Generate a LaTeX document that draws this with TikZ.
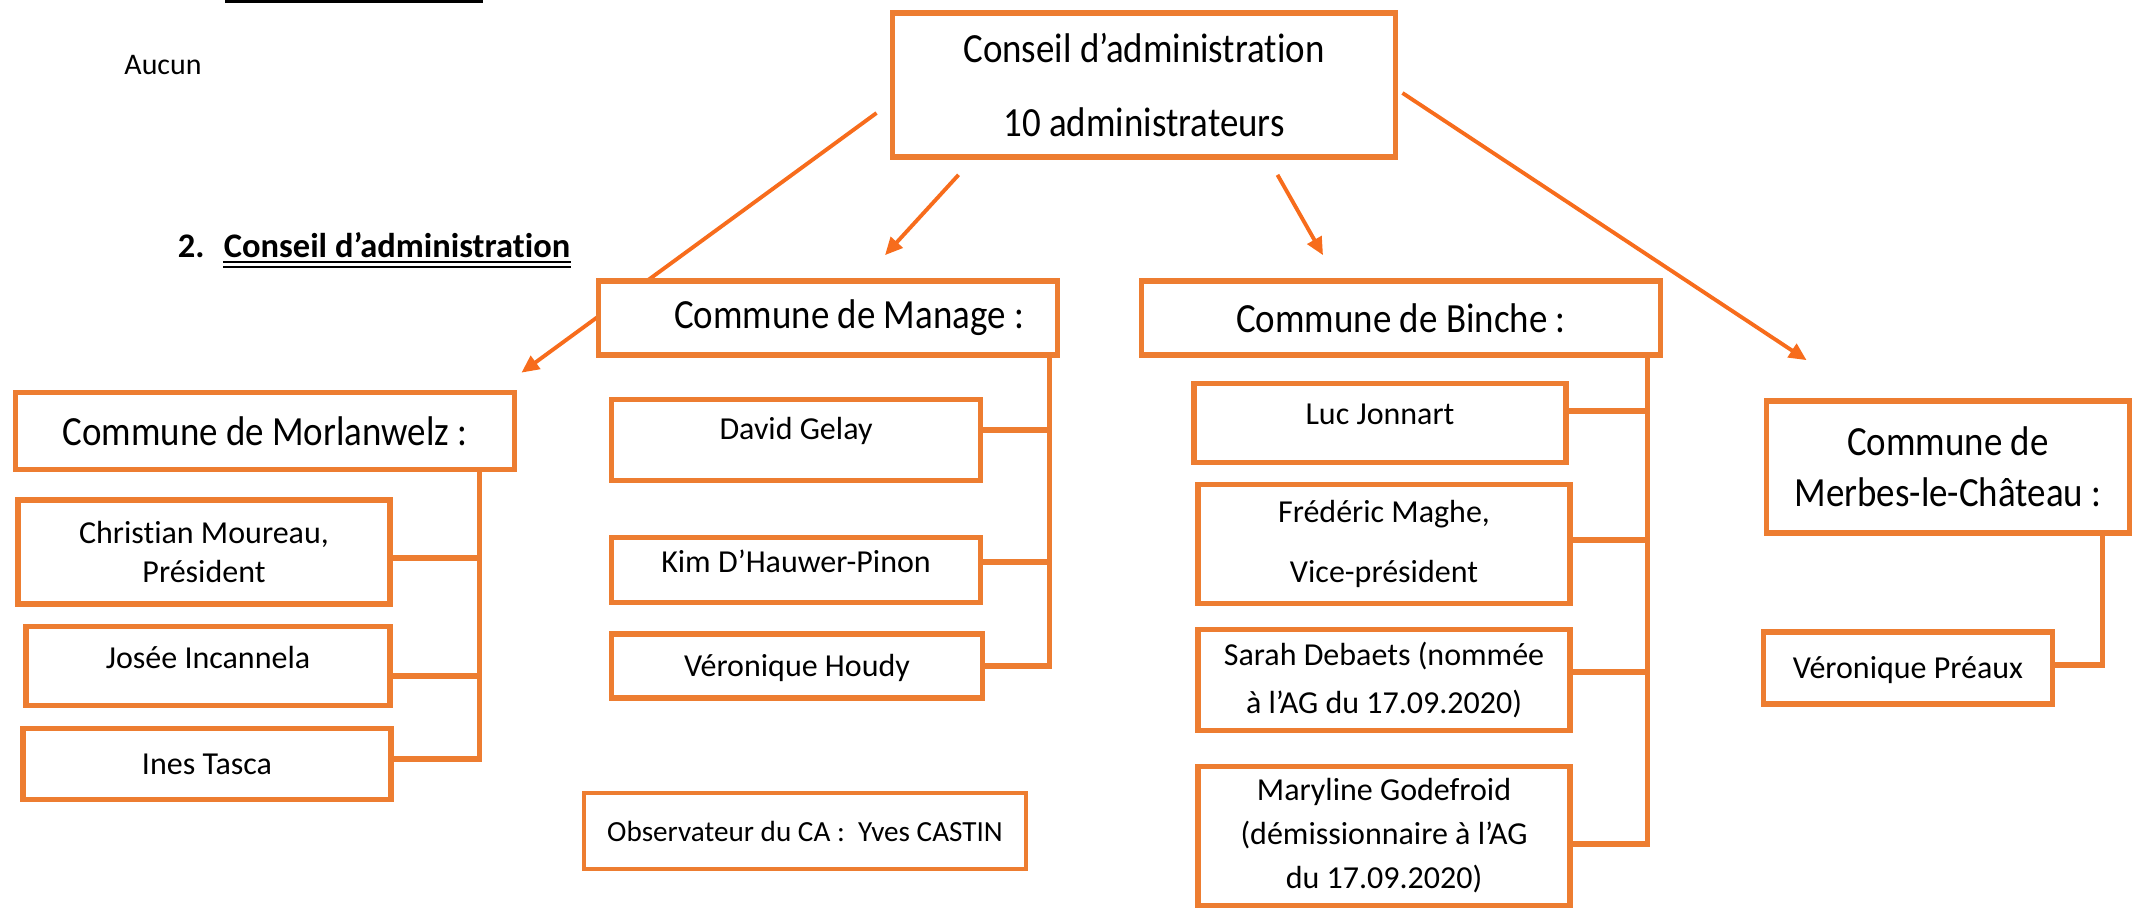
\documentclass[tikz,border=0pt]{standalone}
\usepackage{fontspec}
\setmainfont{Carlito}[Ligatures=NoCommon]
\newfontfamily\headfont{Carlito}[FakeStretch=0.89,Ligatures=NoCommon]
\usetikzlibrary{arrows.meta,calc,positioning}
\definecolor{boxor}{RGB}{237,125,49}
\definecolor{arrowor}{RGB}{247,108,28}

\begin{document}
\begin{tikzpicture}[x=0.01cm,y=-0.01cm,
	box/.style={draw=boxor,line width=1.6pt,fill=white,inner sep=0pt},
	head/.style={box,font=\headfont\fontsize{11.8}{14.2}\selectfont,align=center},
	member/.style={box,font=\fontsize{9.1}{11}\selectfont},
	oneline/.style={text height=2.2mm,text depth=#1},
	oneline/.default=0.2mm,
	link/.style={boxor,line width=1.5pt},
	arr/.style={arrowor,line width=1.1pt,-{Triangle[length=5pt,width=4.5pt]}}]
	\useasboundingbox (0,0) rectangle (2134,910);
	\draw[line width=1.2pt] (225,1) -- (483,1);
	\node[font=\fontsize{8.5}{10}\selectfont] (aucun) at (163,65) {Aucun};
	\node[font=\fontsize{9.8}{12}\selectfont\bfseries,inner sep=0pt] (titre) at (397,245) {Conseil d’administration};
	\node[font=\fontsize{9.8}{12}\selectfont\bfseries,inner sep=0pt,base left=1.8mm of titre] (num) {2.};
	\draw[line width=0.55pt] ([yshift=-1.3pt]titre.base west) -- ([yshift=-1.3pt]titre.base east);
	\draw[line width=0.55pt] ([yshift=-2.6pt]titre.base west) -- ([yshift=-2.6pt]titre.base east);

	\node[head,minimum width=5.03cm,minimum height=1.44cm] (ca) at (1144,85) {Conseil d’administration\\[6.6pt]10 administrateurs};
	\node[head,minimum width=4.99cm,minimum height=0.77cm] (morl) at (265,431) {Commune de Morlanwelz :};
	\draw[arr] ($(ca.west)+(-13,28)$) -- ($(morl.north east)+(4,-17)$);
	\node[head,minimum width=4.59cm,minimum height=0.74cm] (mana) at (828,318) {\hspace*{4.2mm}Commune de Manage :};
	\node[head,minimum width=5.19cm,minimum height=0.74cm] (binc) at (1401,318) {Commune de Binche :};
	\node[head,minimum width=3.63cm,minimum height=1.32cm] (merb) at (1948,467) {Commune de\\[0.3pt]Merbes-le-Château :};

	\node[member,align=center,minimum width=3.72cm,minimum height=1.04cm] (cmou) at (204,552) {Christian Moureau,\\Président};
	\node[member,oneline=1.7mm,minimum width=3.64cm,minimum height=0.79cm] (jinc) at (208,666) {Josée Incannela};
	\node[member,oneline,minimum width=3.68cm,minimum height=0.71cm] (itas) at (207,764) {Ines Tasca};

	\node[member,oneline=2.3mm,minimum width=3.69cm,minimum height=0.81cm] (dgel) at (796,440) {David Gelay};
	\node[member,oneline=1.7mm,minimum width=3.69cm,minimum height=0.65cm] (khau) at (796,570) {Kim D’Hauwer-Pinon};
	\node[member,oneline,minimum width=3.71cm,minimum height=0.64cm] (vhou) at (797,666) {Véronique Houdy};

	\node[member,oneline=1.9mm,minimum width=3.72cm,minimum height=0.79cm] (ljon) at (1380,423) {Luc Jonnart};
	\node[member,align=center,minimum width=3.72cm,minimum height=1.19cm] (fmag) at (1384,544) {Frédéric Maghe,\\[6.1pt]Vice-président};
	\node[member,align=center,minimum width=3.72cm,minimum height=1.01cm] (sdeb) at (1384,680) {Sarah Debaets (nommée\\[2.4pt]à l’AG du 17.09.2020)};
	\node[member,align=center,minimum width=3.72cm,minimum height=1.39cm] (mgod) at (1384,836) {Maryline Godefroid\\[1.5pt](démissionnaire à l’AG\\[1.5pt]du 17.09.2020)};

	\node[member,oneline,minimum width=2.89cm,minimum height=0.72cm] (vpre) at (1908,668) {Véronique Préaux};
	\node[box,line width=1.1pt,font=\fontsize{8.3}{10}\selectfont,minimum width=4.42cm,minimum height=0.76cm] (obs) at (805,831) {Observateur du CA :\ \ Yves CASTIN};

	\draw[arr] ($(ca.south west)+(69,15)$) -- ($(mana.north)+(57,-23)$);
	\draw[arr] ($(ca.south east)+(-121,15)$) -- ($(binc.north)+(-78,-23)$);
	\draw[arr] ($(ca.east)+(4,8)$) -- ($(merb.north west)+(43,-38)$);

	\coordinate (morl-bar) at ($(morl.south east)+(-38,0)$);
	\draw[link] ([yshift=-0.6mm]cmou.east) -| (morl-bar);
	\draw[link] ([yshift=-1mm]jinc.east) -| (morl-bar);
	\draw[link] ([yshift=0.5mm]itas.east) -| (morl-bar);
	\coordinate (mana-bar) at ($(mana.south east)+(-11,0)$);
	\draw[link] ([yshift=1mm]dgel.east) -| (mana-bar);
	\draw[link] ([yshift=0.8mm]khau.east) -| (mana-bar);
	\draw[link] (vhou.east) -| (mana-bar);
	\coordinate (binc-bar) at ($(binc.south east)+(-16,0)$);
	\draw[link] ([yshift=1.2mm]ljon.east) -| (binc-bar);
	\draw[link] ([yshift=0.4mm]fmag.east) -| (binc-bar);
	\draw[link] ([yshift=0.8mm]sdeb.east) -| (binc-bar);
	\draw[link] ([yshift=-0.8mm]mgod.east) -| (binc-bar);
	\coordinate (merb-bar) at ($(merb.south east)+(-30,0)$);
	\draw[link] ([yshift=0.3mm]vpre.east) -| (merb-bar);
\end{tikzpicture}
\end{document}
